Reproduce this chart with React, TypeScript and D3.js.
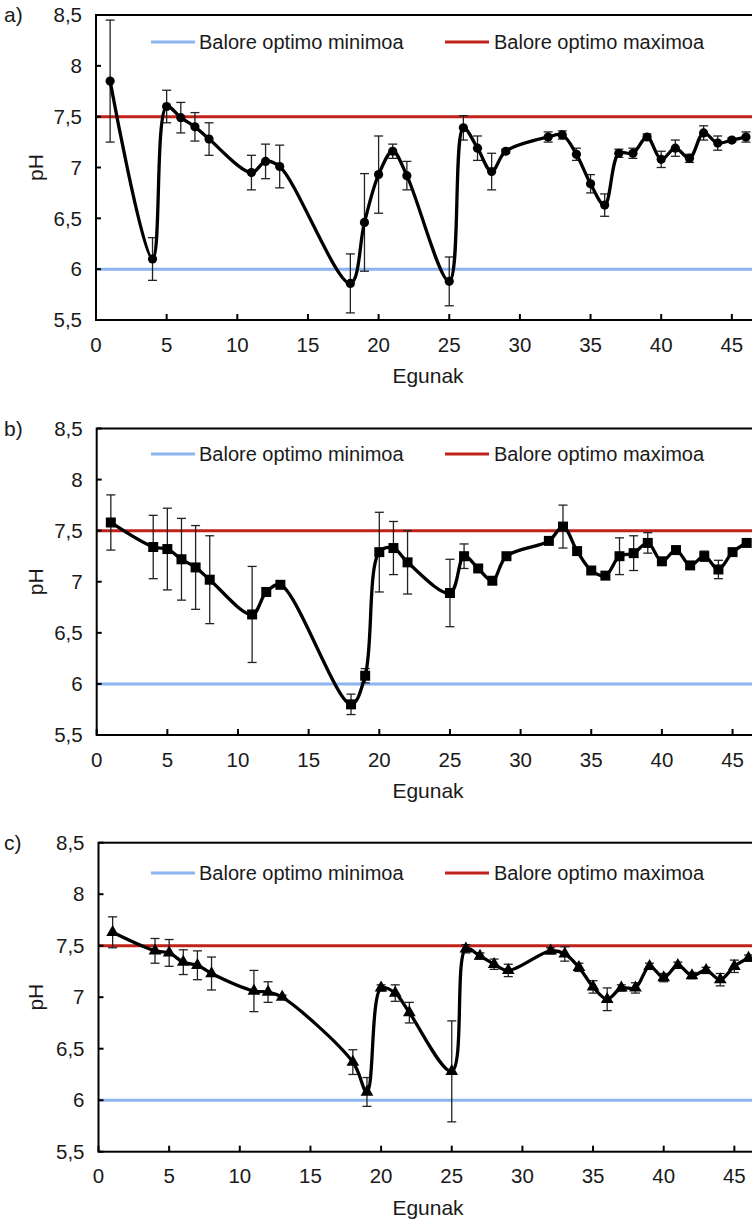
import React from "react";
import * as d3 from "d3";

const days = [1, 4, 5, 6, 7, 8, 11, 12, 13, 18, 19, 20, 21, 22, 25, 26, 27, 28, 29, 32, 33, 34, 35, 36, 37, 38, 39, 40, 41, 42, 43, 44, 45, 46];

const phA = [7.85, 6.10, 7.60, 7.49, 7.40, 7.28, 6.95, 7.06, 7.01, 5.86, 6.46, 6.93, 7.16, 6.92, 5.88, 7.39, 7.19, 6.96, 7.16, 7.30, 7.32, 7.13, 6.84, 6.63, 7.14, 7.14, 7.30, 7.08, 7.19, 7.09, 7.34, 7.24, 7.27, 7.30];
const errA = [0.60, 0.21, 0.16, 0.15, 0.14, 0.16, 0.17, 0.17, 0.21, 0.29, 0.48, 0.38, 0.07, 0.14, 0.24, 0.12, 0.12, 0.18, 0.02, 0.05, 0.04, 0.06, 0.09, 0.11, 0.04, 0.05, 0.03, 0.08, 0.08, 0.04, 0.07, 0.07, 0.02, 0.05];

const phB = [7.58, 7.34, 7.32, 7.22, 7.14, 7.02, 6.68, 6.90, 6.97, 5.80, 6.08, 7.29, 7.33, 7.19, 6.89, 7.25, 7.13, 7.01, 7.25, 7.40, 7.54, 7.30, 7.11, 7.06, 7.25, 7.28, 7.38, 7.20, 7.31, 7.16, 7.25, 7.12, 7.29, 7.38];
const errB = [0.27, 0.31, 0.40, 0.40, 0.41, 0.43, 0.47, 0.03, 0.02, 0.10, 0.07, 0.39, 0.26, 0.31, 0.33, 0.12, 0.02, 0.03, 0.03, 0.02, 0.21, 0.03, 0.02, 0.02, 0.18, 0.17, 0.10, 0.02, 0.02, 0.02, 0.05, 0.09, 0.02, 0.02];

const phC = [7.63, 7.45, 7.43, 7.34, 7.31, 7.23, 7.06, 7.05, 7.00, 6.37, 6.08, 7.09, 7.04, 6.85, 6.28, 7.47, 7.40, 7.32, 7.26, 7.45, 7.42, 7.29, 7.10, 6.98, 7.09, 7.09, 7.30, 7.19, 7.31, 7.21, 7.26, 7.17, 7.30, 7.38];
const errC = [0.15, 0.12, 0.13, 0.12, 0.14, 0.16, 0.20, 0.10, 0.02, 0.12, 0.14, 0.03, 0.08, 0.10, 0.49, 0.04, 0.03, 0.05, 0.06, 0.03, 0.07, 0.04, 0.06, 0.11, 0.03, 0.05, 0.03, 0.04, 0.03, 0.03, 0.03, 0.06, 0.06, 0.03];

const panelLabels = ["a)", "b)", "c)"];
const xTicks = [0, 5, 10, 15, 20, 25, 30, 35, 40, 45];
const yTicks = [5.5, 6, 6.5, 7, 7.5, 8, 8.5];
const optMin = 6;
const optMax = 7.5;
const legendMin = "Balore optimo minimoa";
const legendMax = "Balore optimo maximoa";
const xTitle = "Egunak";
const yTitle = "pH";

const W = 752;
const H = 1220;
const FONT = "'Liberation Sans', Arial, Helvetica, sans-serif";
const BLUE = "#8cb4f0";
const RED = "#c0221a";

const panels = [
  { values: phA, errs: errA, marker: "circle", left: 96, top: 15, bottom: 320, legendY: 42 },
  { values: phB, errs: errB, marker: "square", left: 96.7, top: 428.5, bottom: 735, legendY: 454 },
  { values: phC, errs: errC, marker: "triangle", left: 98.5, top: 842.7, bottom: 1151.7, legendY: 873 },
];

const fmt = (v: number) => String(v).replace(".", ",");

function Panel({ p, label, idx }: any) {
  const x = d3.scaleLinear().domain([0, 50]).range([p.left, p.left + 706.5]);
  const y = d3.scaleLinear().domain([5.5, 8.5]).range([p.bottom, p.top]);
  const pts = days.map((d, i) => ({ d, v: p.values[i], e: p.errs[i] }));
  const line = d3
    .line<any>()
    .x((q) => x(q.d))
    .y((q) => y(q.v))
    .curve(d3.curveCatmullRom.alpha(0.5));
  const symType = p.marker === "square" ? d3.symbolSquare : d3.symbolTriangle;
  const sym = d3.symbol().type(symType).size(p.marker === "square" ? 100 : 70);
  const x0 = p.left;
  const x1 = x(50);
  const cap = 4.5;
  const clipId = "clip" + idx;
  return (
    <g>
      <defs>
        <clipPath id={clipId}>
          <rect x={x0} y={p.top - 20} width={x1 - x0} height={p.bottom - p.top + 40} />
        </clipPath>
      </defs>
      <line x1={x0} x2={x1} y1={y(optMin)} y2={y(optMin)} stroke={BLUE} strokeWidth={3} />
      <line x1={x0} x2={x1} y1={y(optMax)} y2={y(optMax)} stroke={RED} strokeWidth={3} />
      <line x1={151} x2={195} y1={p.legendY} y2={p.legendY} stroke={BLUE} strokeWidth={3} />
      <text x={199} y={p.legendY} dy="0.35em" fontSize={20} fill="#1a1a1a" fontFamily={FONT}>{legendMin}</text>
      <line x1={445} x2={489} y1={p.legendY} y2={p.legendY} stroke={RED} strokeWidth={3} />
      <text x={494} y={p.legendY} dy="0.35em" fontSize={20} fill="#1a1a1a" fontFamily={FONT}>{legendMax}</text>
      {pts.map((q, i) => (
        <g key={"e" + i} stroke="#222" strokeWidth={1.3}>
          <line x1={x(q.d)} x2={x(q.d)} y1={y(q.v + q.e)} y2={y(q.v - q.e)} />
          <line x1={x(q.d) - cap} x2={x(q.d) + cap} y1={y(q.v + q.e)} y2={y(q.v + q.e)} />
          <line x1={x(q.d) - cap} x2={x(q.d) + cap} y1={y(q.v - q.e)} y2={y(q.v - q.e)} />
        </g>
      ))}
      <path d={line(pts) || ""} fill="none" stroke="#000" strokeWidth={3.3} strokeLinejoin="round" clipPath={`url(#${clipId})`} />
      {pts.map((q, i) =>
        p.marker === "circle" ? (
          <circle key={"m" + i} cx={x(q.d)} cy={y(q.v)} r={4.6} fill="#000" />
        ) : (
          <path key={"m" + i} d={sym() || ""} transform={`translate(${x(q.d)},${y(q.v)})`} fill="#000" />
        )
      )}
      <rect x={x0} y={p.top} width={x1 - x0} height={p.bottom - p.top} fill="none" stroke="#000" strokeWidth={2} />
      {yTicks.map((t) => (
        <g key={"y" + t}>
          <line x1={x0} x2={x0 + 5} y1={y(t)} y2={y(t)} stroke="#000" strokeWidth={2} />
          <text x={x0 - 14} y={y(t)} dy="0.35em" textAnchor="end" fontSize={20.5} fill="#1a1a1a" fontFamily={FONT}>{fmt(t)}</text>
        </g>
      ))}
      {xTicks.map((t) => (
        <g key={"x" + t}>
          <line x1={x(t)} x2={x(t)} y1={p.bottom} y2={p.bottom - 6} stroke="#000" strokeWidth={2} />
          <text x={x(t)} y={p.bottom + 24.5} dy="0.35em" textAnchor="middle" fontSize={20.5} fill="#1a1a1a" fontFamily={FONT}>{t}</text>
        </g>
      ))}
      <text x={428} y={p.bottom + 56} dy="0.35em" textAnchor="middle" fontSize={21} fill="#1a1a1a" fontFamily={FONT}>{xTitle}</text>
      <text transform={`translate(36,${(p.top + p.bottom) / 2}) rotate(-90)`} dy="0.35em" textAnchor="middle" fontSize={21} fill="#1a1a1a" fontFamily={FONT}>{yTitle}</text>
      <text x={4} y={p.top} dy="0.35em" fontSize={21} fill="#1a1a1a" fontFamily={FONT}>{label}</text>
    </g>
  );
}

export default function App() {
  return (
    <svg width={W} height={H} style={{ position: "absolute", left: 0, top: 0, background: "#fff" }}>
      <rect x={0} y={0} width={W} height={H} fill="#fff" />
      {panels.map((p, i) => (
        <Panel key={i} p={p} label={panelLabels[i]} idx={i} />
      ))}
    </svg>
  );
}
